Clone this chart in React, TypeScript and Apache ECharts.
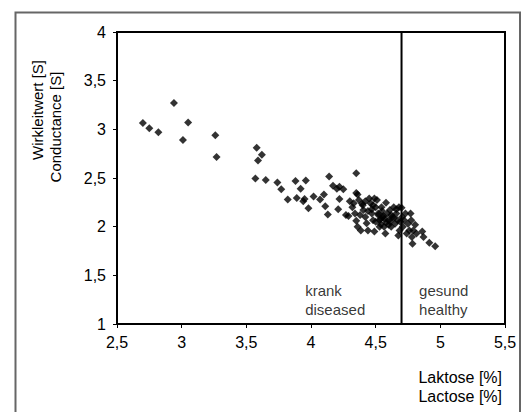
import React, { useEffect, useRef } from "react";
import * as echarts from "echarts";

const lactose: number[] = [
  2.70, 2.75, 2.82, 2.94, 3.01, 3.05, 3.26, 3.27, 3.58, 3.59, 3.62, 3.57, 3.65, 3.74, 3.77, 3.82,
  3.88, 3.89, 3.92, 3.94, 3.95, 3.96, 3.98, 4.02, 4.07, 4.10, 4.11, 4.13, 4.14, 4.17, 4.20, 4.21,
  4.22, 4.22, 4.25, 4.27, 4.29, 4.35, 4.35, 4.36, 4.30, 4.32, 4.34, 4.35, 4.36, 4.385, 4.37, 4.395,
  4.405, 4.42, 4.43, 4.44, 4.45, 4.46, 4.47, 4.48, 4.49, 4.50, 4.51, 4.52, 4.53, 4.54, 4.545, 4.555,
  4.565, 4.575, 4.58, 4.59, 4.60, 4.61, 4.62, 4.63, 4.64, 4.65, 4.66, 4.67, 4.675, 4.68, 4.685, 4.70,
  4.705, 4.71, 4.72, 4.73, 4.74, 4.75, 4.76, 4.77, 4.775, 4.78, 4.785, 4.79, 4.805, 4.815, 4.86, 4.87,
  4.915, 4.96, 4.49, 4.40, 4.47, 4.52, 4.55, 4.57, 4.60, 4.62, 4.50, 4.54, 4.58, 4.44, 4.38, 4.33,
  4.56, 4.64, 4.69, 4.42, 4.48, 4.53, 4.61, 4.66
];

const conductance: number[] = [
  3.065, 3.01, 2.97, 3.27, 2.89, 3.07, 2.94, 2.715, 2.81, 2.68, 2.74, 2.495, 2.48, 2.455, 2.385, 2.28,
  2.47, 2.295, 2.39, 2.26, 2.285, 2.475, 2.19, 2.31, 2.28, 2.33, 2.21, 2.125, 2.515, 2.42, 2.39, 2.18,
  2.285, 2.41, 2.385, 2.12, 2.11, 2.55, 2.345, 2.33, 2.26, 2.20, 2.135, 2.06, 2.00, 1.96, 2.275, 2.235,
  2.17, 2.10, 2.035, 1.96, 2.29, 2.24, 2.135, 2.065, 1.95, 2.20, 2.275, 2.135, 2.065, 2.025, 2.20, 2.10,
  2.00, 1.93, 2.245, 2.135, 2.065, 2.17, 2.00, 2.10, 2.20, 2.03, 2.135, 2.065, 1.91, 2.20, 1.96, 2.195,
  2.10, 2.00, 2.065, 2.135, 1.93, 2.03, 1.96, 2.135, 2.065, 1.895, 1.825, 1.96, 2.02, 1.93, 1.95, 1.895,
  1.835, 1.80, 2.29, 2.22, 2.18, 2.12, 2.16, 2.08, 2.02, 2.12, 2.05, 2.08, 2.04, 2.16, 2.12, 2.24,
  2.11, 2.09, 2.05, 2.26, 2.22, 2.00, 2.05, 2.18
];

const xTicks = { min: 2.5, max: 5.5, interval: 0.5 };
const yTicks = { min: 1, max: 4, interval: 0.5 };
const threshold = 4.7;

const xNameLines = ["Laktose [%]", "Lactose [%]"];
const yNameLines = ["Wirkleitwert [S]", "Conductance [S]"];
const regionLabels = { diseased: "krank\ndiseased", healthy: "gesund\nhealthy" };

const fmt = (v: number) => String(v).replace(".", ",");

export default function App() {
  const ref = useRef<HTMLDivElement>(null);
  useEffect(() => {
    if (!ref.current) return;
    const chart = echarts.init(ref.current, null, { renderer: "svg" });
    const pts = lactose.map((x, i) => [x, conductance[i]]);
    const font = "'Liberation Sans', Arial, sans-serif";
    chart.setOption({
      animation: false,
      backgroundColor: "#fff",
      textStyle: { fontFamily: font },
      grid: {
        left: 117,
        top: 32,
        right: 23,
        bottom: 88,
        show: true,
        borderColor: "#000",
        borderWidth: 2,
        backgroundColor: "transparent",
      },
      xAxis: {
        type: "value",
        min: xTicks.min,
        max: xTicks.max,
        interval: xTicks.interval,
        axisLine: { show: true, lineStyle: { color: "#000", width: 2 } },
        axisTick: { show: true, length: 4, lineStyle: { color: "#000" } },
        splitLine: { show: false },
        axisLabel: { formatter: fmt, color: "#000", fontSize: 16, margin: 10, fontFamily: font },
      },
      yAxis: {
        type: "value",
        min: yTicks.min,
        max: yTicks.max,
        interval: yTicks.interval,
        axisLine: { show: true, lineStyle: { color: "#000", width: 2 } },
        axisTick: { show: true, length: 4, lineStyle: { color: "#000" } },
        splitLine: { show: false },
        axisLabel: { formatter: fmt, color: "#000", fontSize: 16, margin: 11, fontFamily: font },
      },
      graphic: [
        {
          type: "rect",
          shape: { x: 15.5, y: 12.5, width: 504.5, height: 420 },
          style: { fill: "none", stroke: "#666", lineWidth: 2 },
          silent: true,
        },
        {
          type: "text",
          x: 37,
          y: 110,
          rotation: Math.PI / 2,
          style: {
            text: yNameLines[0],
            fill: "#000",
            font: `15px ${font}`,
            align: "center",
            verticalAlign: "middle",
          },
        },
        {
          type: "text",
          x: 55,
          y: 127,
          rotation: Math.PI / 2,
          style: {
            text: yNameLines[1],
            fill: "#000",
            font: `15px ${font}`,
            align: "center",
            verticalAlign: "middle",
          },
        },
        {
          type: "text",
          x: 502,
          y: 377,
          style: { text: xNameLines[0], fill: "#000", font: `16px ${font}`, align: "right", verticalAlign: "middle" },
        },
        {
          type: "text",
          x: 502,
          y: 396,
          style: { text: xNameLines[1], fill: "#000", font: `16px ${font}`, align: "right", verticalAlign: "middle" },
        },
      ],
      series: [
        {
          type: "scatter",
          data: pts,
          symbol: "diamond",
          symbolSize: [8, 8],
          itemStyle: { color: "#000" },
        },
        {
          type: "line",
          data: [
            [threshold, yTicks.min],
            [threshold, yTicks.max],
          ],
          symbol: "none",
          lineStyle: { color: "#000", width: 2 },
          silent: true,
        },
        {
          type: "scatter",
          data: [
            { value: [3.955, 1.437], label: { formatter: regionLabels.diseased } },
            { value: [4.836, 1.437], label: { formatter: regionLabels.healthy } },
          ],
          symbolSize: 0,
          label: {
            show: true,
            position: "right",
            distance: 0,
            color: "#000",
            fontSize: 15,
            lineHeight: 19,
            fontFamily: font,
            align: "left",
            verticalAlign: "top",
          },
          silent: true,
        },
      ],
    });
    return () => chart.dispose();
  }, []);
  return (
    <div
      ref={ref}
      style={{ position: "fixed", left: 0, top: 0, width: 528, height: 412 }}
    />
  );
}
